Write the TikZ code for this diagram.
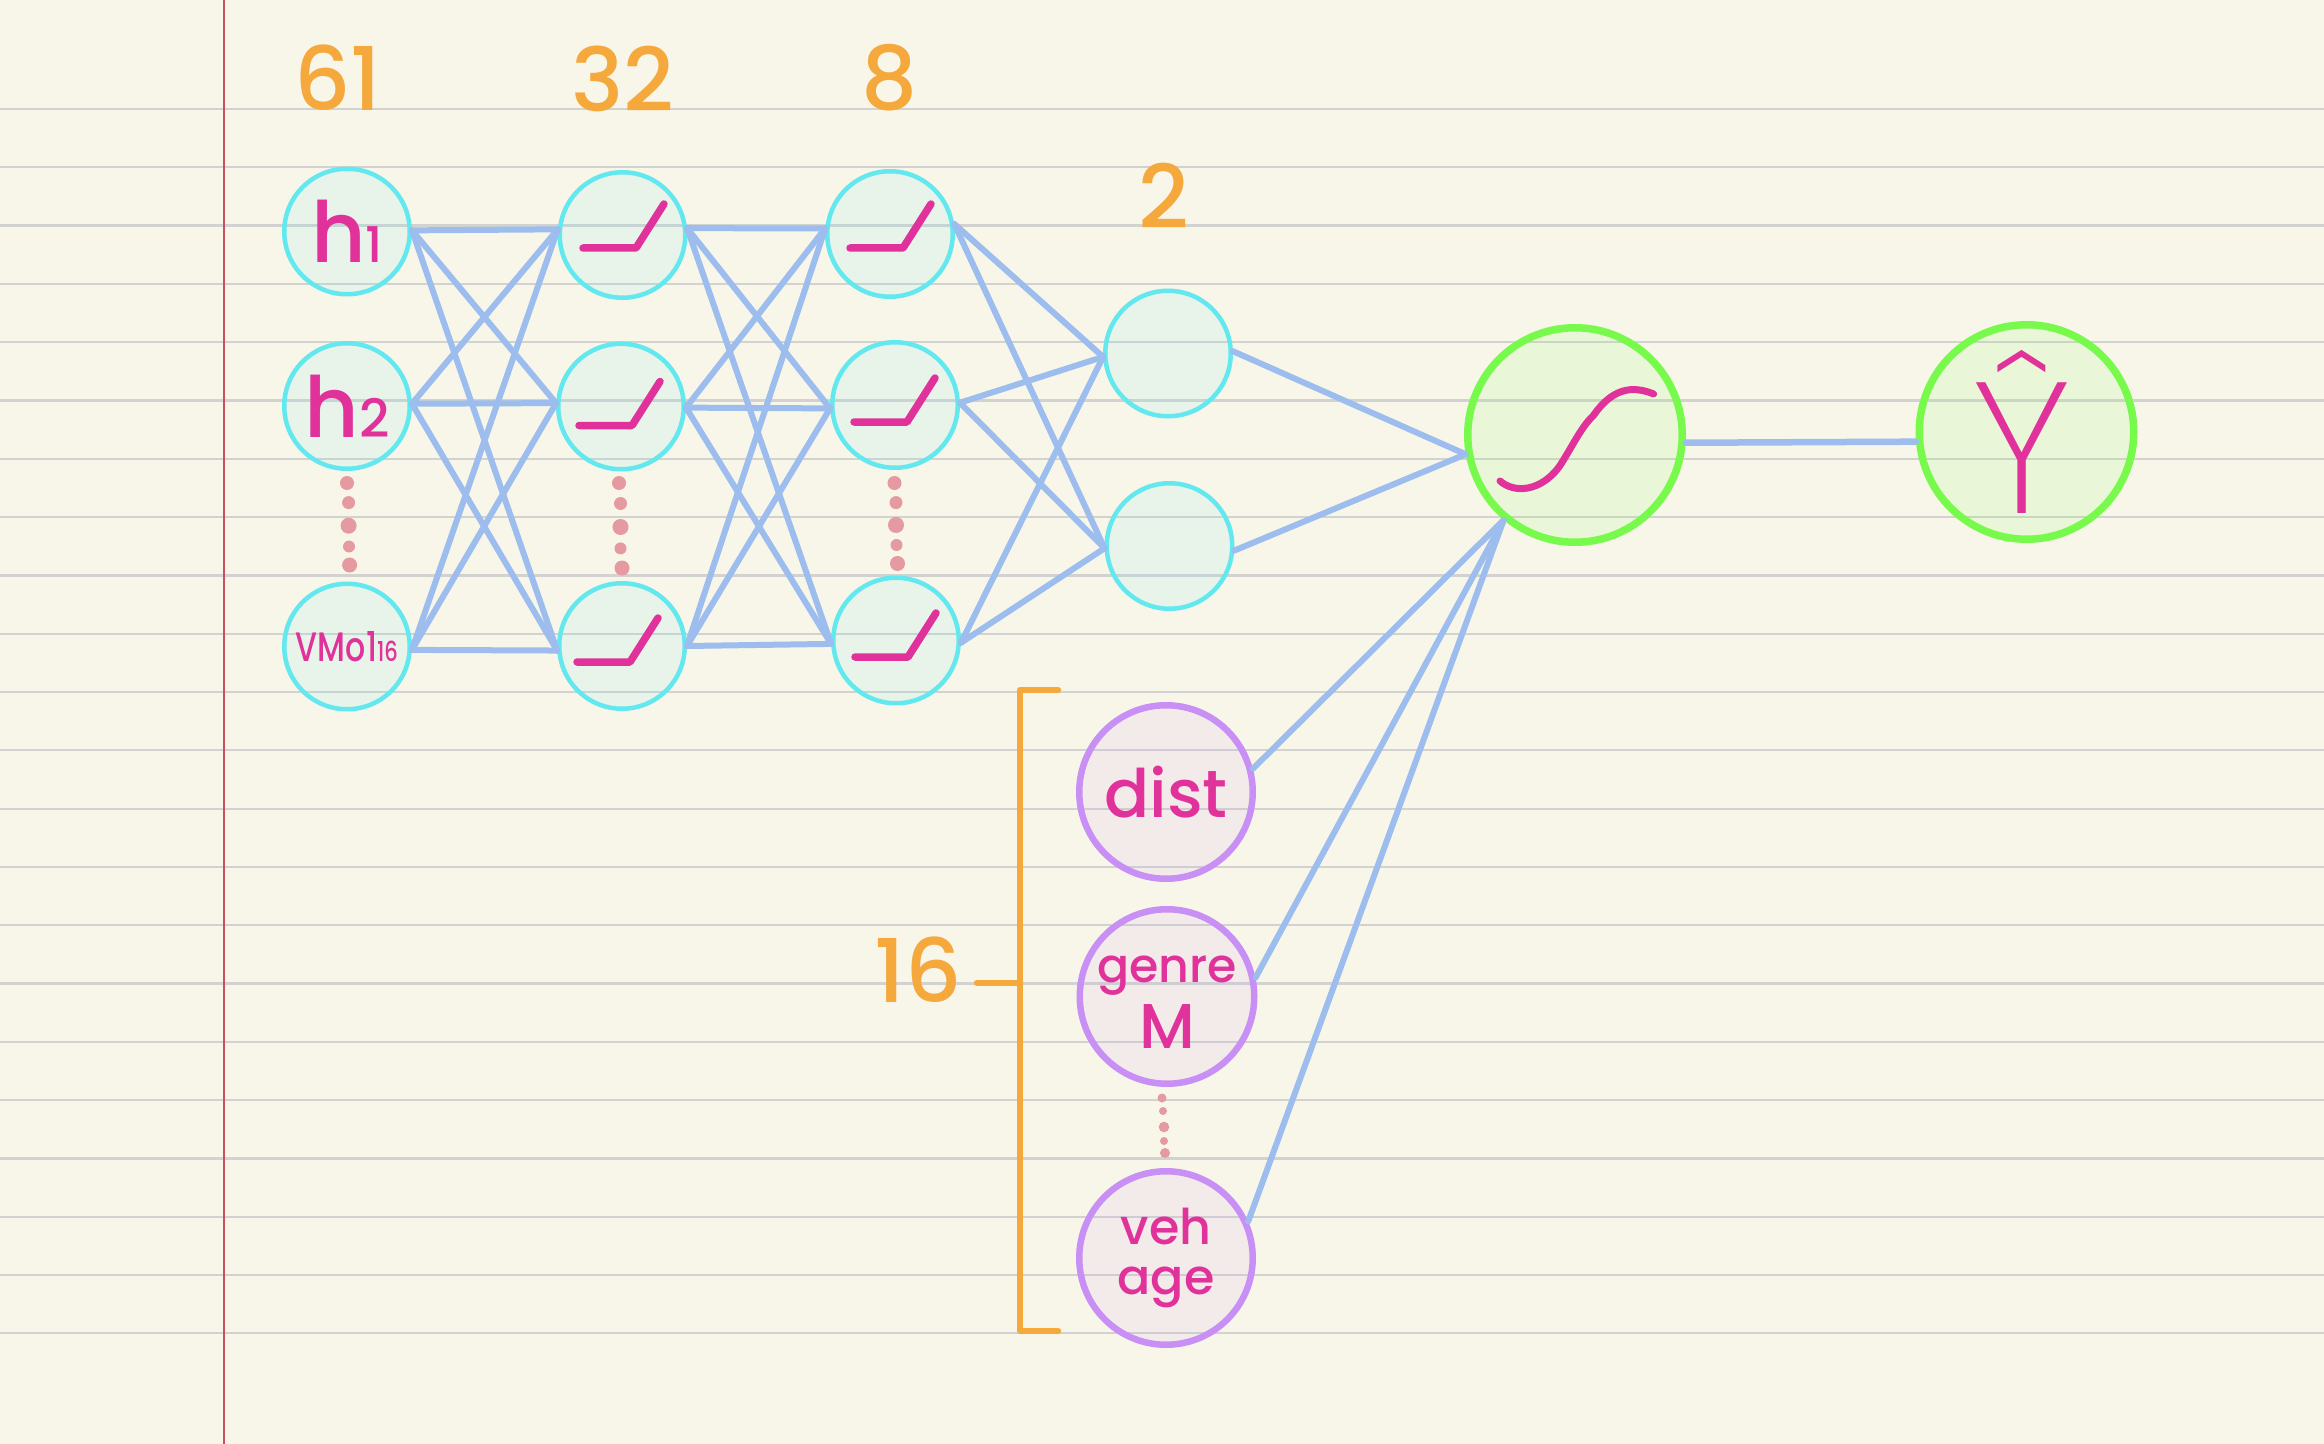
\documentclass[tikz,border=0pt]{standalone}
\usepackage{fontspec}
\usepackage{xcolor}
\usepackage{tikz}
\usetikzlibrary{positioning,calc}
\setmainfont{Poppins Medium}
\newfontfamily\midfont{Poppins Medium}
\newfontfamily\thinfont{Poppins ExtraLight}
\definecolor{nbpaper}{HTML}{F8F6E9}
\definecolor{nbrule}{HTML}{D2D3D0}
\definecolor{nbmargin}{HTML}{C8505F}
\definecolor{nncyan}{HTML}{62E8EE}
\definecolor{nnblue}{HTML}{9CBDEE}
\definecolor{nnpink}{HTML}{E0329A}
\definecolor{nnorange}{HTML}{F5A83C}
\definecolor{nnpurple}{HTML}{C890F5}
\definecolor{nngreen}{HTML}{78FA4C}
\definecolor{nndots}{HTML}{E49AA0}
\begin{document}
\begin{tikzpicture}[x=1mm, y=-1mm,
  unit/.style={circle, draw=nncyan, fill=nncyan, line width=.45mm, fill opacity=.1,
    text opacity=1, text=nnpink, inner sep=0pt, minimum size=12.55mm},
  extra/.style={circle, draw=nnpurple, fill=nnpurple, line width=.65mm, fill opacity=.1,
    text opacity=1, text=nnpink, inner sep=0pt, minimum size=17.35mm, align=center,
    font=\fontsize{14}{14}\selectfont},
  final/.style={circle, draw=nngreen, fill=nngreen, line width=.75mm, fill opacity=.1,
    text opacity=1, text=nnpink, inner sep=0pt, minimum size=21.45mm},
  count/.style={text=nnorange, inner sep=0pt, font=\fontsize{25}{25}\midfont},
  arr/.style={draw=nnblue, line width=.6mm, line cap=round},
  brk/.style={draw=nnorange, line width=.65mm, line cap=round},
  ramp/.pic={\draw[draw=nnpink, line width=.75mm, line cap=round, line join=round]
    (-4.1,0) -- (1.2,0) -- (4,-4.4);},
  sigm/.pic={\draw[draw=nnpink, line width=.7mm, line cap=round]
    (-7.5,4.6) .. controls (-6,5.9) and (-3.4,5.6) .. (-1.6,3.2)
    .. controls (-.4,1.4) and (.6,-.8) .. (1.8,-1.9)
    .. controls (3.2,-3.9) and (5,-5.3) .. (7.86,-4.1);}]
\useasboundingbox (0,0) rectangle (232.4,144.4);
\fill[nbpaper] (0,0) rectangle (232.4,144.4);
% ruled paper
\foreach \k in {0,...,21}
  \draw[nbrule, line width=.22mm] (0,10.9+5.83*\k) -- (232.4,10.9+5.83*\k);
\draw[nbmargin, line width=.2mm] (22.4,0) -- (22.4,144.4);
% input layer
\node[unit, font=\fontsize{24}{24}\selectfont] (h1) at (34.7,23.15) {h{\fontsize{14}{14}\selectfont 1}};
\node[unit, font=\fontsize{24}{24}\selectfont] (h2) at (34.7,40.6) {h{\fontsize{15}{15}\selectfont 2}};
\node[unit, font=\fontsize{9}{9}\selectfont] (h3) at (34.7,64.65) {\scalebox{1}[1.3]{VMo1{\fontsize{6}{6}\selectfont 16}}};
% hidden layers
\node[unit] (a1) at (62.25,23.5) {};
\node[unit] (a2) at (62.1,40.65) {};
\node[unit] (a3) at (62.2,64.6) {};
\node[unit] (b1) at (89,23.4) {};
\node[unit] (b2) at (89.5,40.5) {};
\node[unit] (b3) at (89.6,64.05) {};
\node[unit] (c1) at (116.8,35.35) {};
\node[unit] (c2) at (116.95,54.6) {};
\foreach \n/\dx/\dy in {a1/.15/1.3, a2/-.1/1.9, a3/-.4/1.6, b1/.1/1.4, b2/0/1.7, b3/0/1.65}
  \pic at ($(\n)+(\dx,\dy)$) {ramp};
% extra inputs
\node[extra, font=\fontsize{19}{19}\selectfont] (dist) at (116.6,79.2) {dist};
\node[extra, font=\fontsize{13.5}{14}\selectfont] (genre) at (116.7,99.65) {\rule{0pt}{11pt}genre\\[1.6pt]{\fontsize{18}{18}\selectfont M}};
\node[extra] (veh) at (116.6,125.8) {veh\\age};
% output side
\node[final] (sig) at (157.5,43.5) {};
\pic at (sig) {sigm};
\node[final, font=\fontsize{53}{53}\thinfont] (yhat) at (202.65,43.2) {\hspace*{-1mm}Ŷ};
% layer sizes
\node[count, above=5.5mm of h1, xshift=-.9mm] (n61) {61};
\node[count, above=5.7mm of a1, xshift=.05mm] (n32) {32};
\node[count, above=5.7mm of b1] (n8) {8};
\node[count, above=5.9mm of c1, xshift=-.4mm] (n2) {2};
% links
\foreach \s/\sa in {h1/1, h2/2, h3/-3}
  \foreach \t/\ta in {a1/175, a2/177, a3/184}
    \draw[arr] (\s.\sa) -- (\t.\ta);
\foreach \s/\sa in {a1/6, a2/-1, a3/0}
  \foreach \t/\ta in {b1/175, b2/183, b3/183}
    \draw[arr] (\s.\sa) -- (\t.\ta);
\foreach \s/\sa in {b1/9, b2/2, b3/-2}
  \foreach \t/\ta in {c1/183, c2/182}
    \draw[arr] (\s.\sa) -- (\t.\ta);
\draw[arr] (c1.2) -- (sig.190);
\draw[arr] (c2.-4) -- (sig.190);
\draw[arr] (dist.15) -- (sig.230);
\draw[arr] (genre.12) -- (sig.230);
\draw[arr] (veh.24) -- (sig.230);
\draw[arr, line width=.65mm] (sig.356) -- (yhat.185);
% vertical dots
\foreach \x/\y/\r in {34.7/48.3/.7, 34.86/50.26/.65, 34.86/52.57/.8, 34.9/54.65/.6, 34.96/56.5/.75,
    61.9/48.3/.7, 62.05/50.35/.65, 62.05/52.7/.8, 62.05/54.84/.6, 62.2/56.8/.75,
    89.45/48.3/.7, 89.6/50.26/.65, 89.6/52.5/.8, 89.65/54.5/.6, 89.75/56.35/.75,
    116.2/109.8/.45, 116.3/111.1/.4, 116.4/112.7/.53, 116.4/114.1/.4, 116.5/115.3/.5}
  \fill[nndots] (\x,\y) circle (\r);
% bracket
\coordinate (brta) at (105.8,69);
\coordinate (brtb) at (102,69);
\coordinate (brbb) at (102,133.1);
\coordinate (brba) at (105.8,133.1);
\coordinate (brmid) at (102,98.3);
\coordinate (brtick) at (97.7,98.3);
\draw[brk, line join=round] (brta) -- (brtb) -- (brbb) -- (brba);
\draw[brk] (brtick) -- (brmid);
\node[count, left=1.45mm of brtick, yshift=1.3mm] (n16) {16};
\end{tikzpicture}
\end{document}
